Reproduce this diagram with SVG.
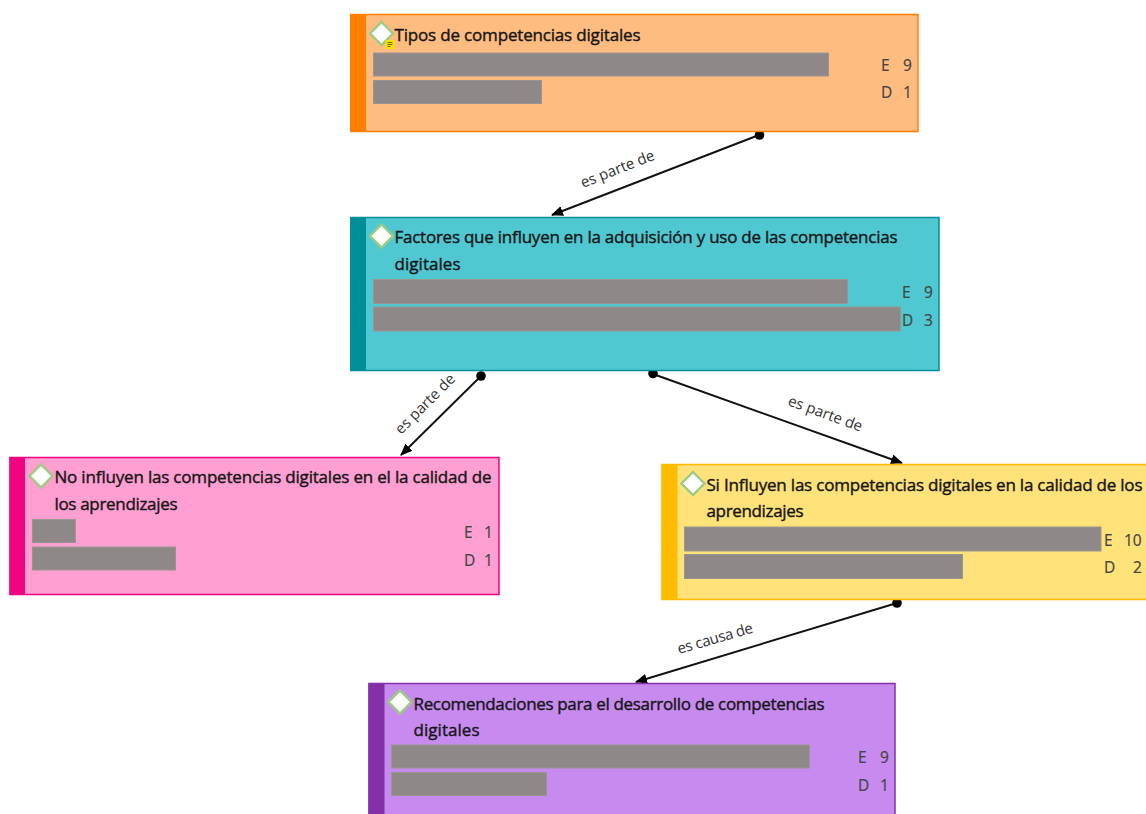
<svg xmlns="http://www.w3.org/2000/svg" width="1146" height="814" viewBox="0 0 1146 814">
<style>
text{font-family:"Open Sans","Noto Sans","Liberation Sans",sans-serif}
.t{font-size:17px;fill:#161616;stroke:#161616;stroke-width:.4}
.c{font-size:15.500px;fill:#444;stroke:#444;stroke-width:.2}
.l{font-size:15px;fill:#333}
.b{fill:#8e8888;stroke:#9b9590;stroke-width:1}
.d{fill:#fff;stroke:#9ccb82;stroke-width:2.400}
.k{stroke:#111;stroke-width:1.900;fill:none;marker-end:url(#a)}
.o{fill:#000}
</style>
<defs><marker id="a" markerUnits="userSpaceOnUse" markerWidth="14" markerHeight="12" refX="11" refY="5" orient="auto"><path d="M0 0L12 5L0 10Z" fill="#000"/></marker>
<path id="dm" class="d" d="M0-11.500L11.500 0L0 11.500L-11.500 0Z"/></defs>
<rect width="1146" height="814" fill="#fff"/>
<g id="connectors">
<path class="k" d="M759 135L552 215"/><circle class="o" cx="759.500" cy="135" r="4.800"/>
<path class="k" d="M481 376L401 455"/><circle class="o" cx="481" cy="376" r="4.800"/>
<path class="k" d="M653 374L902 463"/><circle class="o" cx="653" cy="373.500" r="4.800"/>
<path class="k" d="M897 603L636 682"/><circle class="o" cx="897" cy="603" r="4.800"/>
<text class="l" transform="translate(583 188) rotate(-21.500)" textLength="78">es parte de</text>
<text class="l" transform="translate(401 435) rotate(-45)" textLength="78">es parte de</text>
<text class="l" transform="translate(787 405) rotate(20)" textLength="78">es parte de</text>
<text class="l" transform="translate(679 654) rotate(-16)" textLength="78">es causa de</text>
</g>
<g id="n1">
<rect x="351" y="14.500" width="567" height="117" fill="#ffbc80" stroke="#ff8000" stroke-width="1.500"/>
<rect x="350" y="14" width="16" height="118" fill="#ff8000"/>
<use href="#dm" x="381.500" y="33.500"/>
<rect x="385.500" y="40" width="9" height="9" fill="#f5e400"/><path d="M387.500 42.500h5M387.500 44.500h5M387.500 46.500h3" stroke="#6b6b20" stroke-width="1"/>
<text class="t" x="394.500" y="40.500" textLength="246">Tipos de competencias digitales</text>
<rect class="b" x="373.500" y="53" width="455" height="23"/>
<rect class="b" x="373.500" y="80.500" width="168" height="23"/>
<text class="c" x="881" y="70.500">E</text><text class="c" x="903" y="70.500">9</text>
<text class="c" x="881" y="98">D</text><text class="c" x="903" y="98">1</text>
</g>
<g id="n2">
<rect x="351" y="217.500" width="588" height="153" fill="#4fc8d2" stroke="#008f98" stroke-width="1.500"/>
<rect x="350" y="217" width="16" height="154" fill="#008f98"/>
<use href="#dm" x="381.500" y="236"/>
<text class="t" x="394.500" y="243" textLength="503">Factores que influyen en la adquisición y uso de las competencias</text>
<text class="t" x="394.500" y="270" textLength="66">digitales</text>
<rect class="b" x="373.500" y="279.500" width="474" height="24"/>
<rect class="b" x="373.500" y="307" width="527" height="24"/>
<text class="c" x="902" y="297.500">E</text><text class="c" x="924" y="297.500">9</text>
<text class="c" x="902" y="325.500">D</text><text class="c" x="924" y="325.500">3</text>
</g>
<g id="n3">
<rect x="10" y="457.500" width="489" height="137" fill="#ff9fd2" stroke="#f0047f" stroke-width="1.500"/>
<rect x="9.500" y="457" width="15.500" height="138" fill="#f0047f"/>
<use href="#dm" x="41" y="476"/>
<text class="t" x="54.500" y="483" textLength="437">No influyen las competencias digitales en el la calidad de</text>
<text class="t" x="54.500" y="510" textLength="123">los aprendizajes</text>
<rect class="b" x="32.500" y="519.500" width="43" height="23"/>
<rect class="b" x="32.500" y="547" width="143" height="23"/>
<text class="c" x="464" y="537.500">E</text><text class="c" x="484" y="537.500">1</text>
<text class="c" x="464" y="566">D</text><text class="c" x="484" y="566">1</text>
</g>
<g id="n4">
<rect x="662" y="464.500" width="485" height="135" fill="#ffe27a" stroke="#ffbb00" stroke-width="1.500"/>
<rect x="661.500" y="464" width="16" height="136" fill="#ffbb00"/>
<use href="#dm" x="693" y="483.500"/>
<text class="t" x="706.500" y="490.500" textLength="436">Si Influyen las competencias digitales en la calidad de los</text>
<text class="t" x="706.500" y="517" textLength="97">aprendizajes</text>
<rect class="b" x="684.500" y="527" width="416.500" height="24"/>
<rect class="b" x="684.500" y="554.500" width="278" height="24"/>
<text class="c" x="1104" y="545.500">E</text><text class="c" x="1124" y="545.500">10</text>
<text class="c" x="1104" y="573">D</text><text class="c" x="1133" y="573">2</text>
</g>
<g id="n5">
<rect x="369" y="683.500" width="526" height="140" fill="#c78bf0" stroke="#8530a8" stroke-width="1.500"/>
<rect x="368.500" y="683" width="16" height="140" fill="#8530a8"/>
<use href="#dm" x="400" y="702"/>
<text class="t" x="413.500" y="709.500" textLength="411">Recomendaciones para el desarrollo de competencias</text>
<text class="t" x="413.500" y="736" textLength="66">digitales</text>
<rect class="b" x="391.500" y="745" width="418" height="23"/>
<rect class="b" x="391.500" y="772.500" width="155" height="23"/>
<text class="c" x="858" y="763">E</text><text class="c" x="880" y="763">9</text>
<text class="c" x="858" y="791">D</text><text class="c" x="880" y="791">1</text>
</g>
</svg>
